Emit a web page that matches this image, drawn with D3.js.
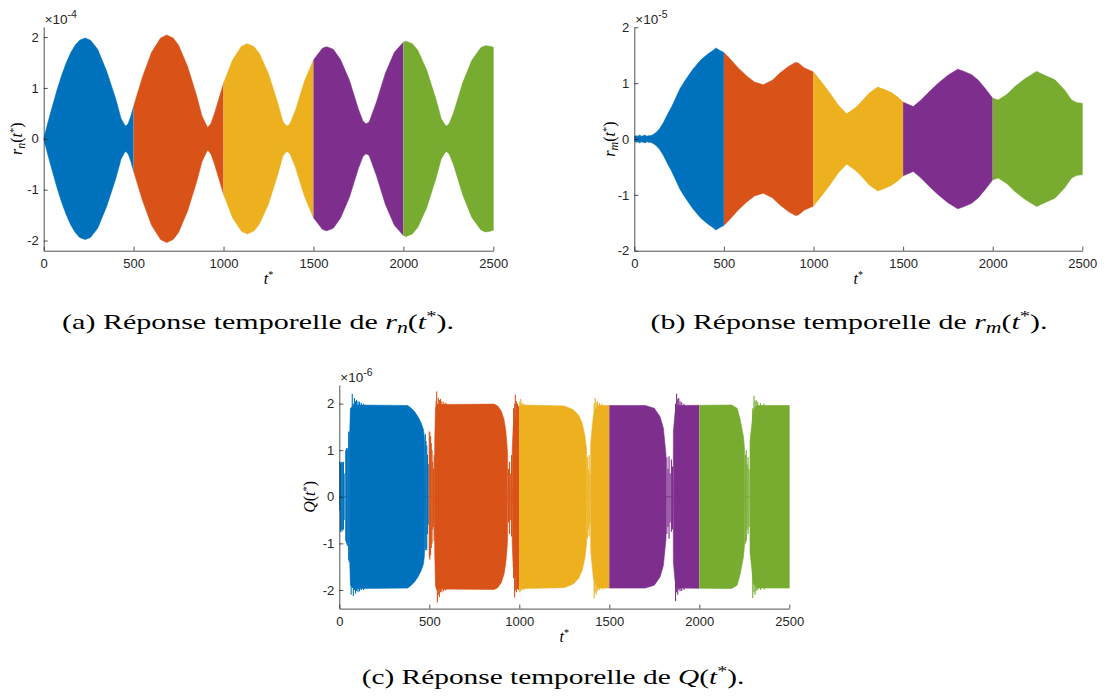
<!DOCTYPE html>
<html><head><meta charset="utf-8">
<script src="https://cdn.jsdelivr.net/npm/d3@7"></script>
<style>
body{margin:0;background:#fff;}
svg{display:block;}
.axis text{font-family:"Liberation Sans",Arial,Helvetica,sans-serif;font-size:13px;fill:#262626;}
.axis path,.axis line{stroke:#262626;stroke-width:0.8;}
.serif{font-family:"Liberation Serif","Times New Roman",serif;fill:#000;}
</style></head><body>
<svg id="chart" width="1105" height="696"></svg>
<script>
// ---------- shared ----------
const segmentEdges = [0, 500, 1000, 1500, 2000, 2500];
const segmentColors = ["#0072BD", "#D95319", "#EDB120", "#7E2F8E", "#77AC30"];
const xTicks = [0, 500, 1000, 1500, 2000, 2500];

// ---------- (a) r_n(t*) envelope, units of 1e-4 ----------
const rnTimes = [0,25,50,75,100,125,150,175,200,230,260,300,350,400,430,450,457,470,485,500,550,600,650,684,720,750,800,850,880,900,912,930,950,1000,1050,1100,1132,1170,1200,1250,1300,1330,1345,1356,1370,1400,1450,1500,1550,1573,1610,1650,1700,1750,1775,1790,1796,1810,1850,1900,1950,2000,2015,2050,2080,2130,2180,2210,2230,2240,2255,2280,2330,2380,2430,2455,2480,2500];
const rnUpper = [0,0.34,0.66,0.97,1.25,1.49,1.69,1.84,1.94,1.98,1.94,1.76,1.33,0.79,0.40,0.27,0.25,0.30,0.45,0.64,1.22,1.70,1.98,2.04,1.98,1.84,1.42,0.85,0.45,0.30,0.22,0.30,0.50,1.09,1.55,1.82,1.87,1.81,1.67,1.28,0.72,0.34,0.27,0.25,0.30,0.56,1.13,1.55,1.78,1.81,1.76,1.56,1.15,0.58,0.35,0.30,0.30,0.33,0.72,1.29,1.70,1.90,1.92,1.87,1.74,1.35,0.79,0.40,0.28,0.25,0.30,0.52,1.10,1.54,1.79,1.83,1.82,1.80];
const rnTicks = [-2, -1, 0, 1, 2];

// ---------- (b) r_m(t*) envelope, units of 1e-5 ----------
const rmTimes = [0,10,20,30,40,50,60,70,80,90,100,120,140,162,185,209,232,255,278,301,325,348,372,395,418,441,455,480,500,530,580,627,670,720,770,813,860,900,915,950,1000,1050,1092,1140,1185,1230,1260,1310,1358,1400,1436,1470,1500,1557,1600,1650,1696,1750,1805,1840,1883,1920,1957,2000,2031,2080,2124,2180,2245,2290,2347,2400,2440,2470,2500];
const rmUpper = [0.04,0.06,0.05,0.07,0.05,0.06,0.07,0.05,0.06,0.06,0.07,0.11,0.18,0.29,0.44,0.58,0.74,0.90,1.02,1.13,1.24,1.33,1.42,1.48,1.54,1.59,1.63,1.58,1.55,1.45,1.27,1.13,1.02,0.97,1.05,1.18,1.30,1.37,1.36,1.27,1.20,1.00,0.82,0.60,0.45,0.55,0.64,0.82,0.93,0.88,0.83,0.75,0.66,0.58,0.70,0.86,1.00,1.14,1.25,1.21,1.15,1.05,0.91,0.73,0.70,0.80,0.94,1.08,1.21,1.14,1.06,0.88,0.70,0.65,0.64];
const rmTicks = [-2, -1, 0, 1, 2];

// ---------- (c) Q(t*) saturated block envelope, units of 1e-6 ----------
const qTimes = [0,57,58,62,75,100,380,400,420,440,455,467,472,475,476,529,530,535,550,860,880,900,915,925,932,935,936,960,961,966,975,985,995,1000,1010,1250,1300,1330,1350,1365,1374,1375,1396,1397,1405,1411,1420,1440,1700,1750,1782,1800,1810,1815,1816,1855,1856,1865,1880,2180,2210,2226,2245,2252,2253,2281,2282,2290,2300,2320,2500];
const qUpper = [0,0,1.40,1.90,1.95,1.97,1.96,1.90,1.82,1.70,1.58,1.45,1.30,1.05,0,0,1.20,1.92,1.98,1.99,1.95,1.84,1.66,1.42,1.10,0.90,0,0,1.05,1.50,1.62,1.75,1.85,1.90,1.97,1.95,1.87,1.75,1.57,1.30,1.00,0,0,1.15,1.50,1.72,1.86,1.96,1.96,1.90,1.72,1.48,1.10,0.90,0,0,1.40,1.80,1.96,1.97,1.90,1.68,1.30,1.00,0,0,1.20,1.50,1.85,1.96,1.96];
// individual oscillation strokes (transients, overshoots, gaps)
const qSpikeT  = [3,7,11,15,19,23,27,36,40,44,48,52,55,66,72,78,84,90,96,104,112,122,135,478,482,486,490,494,500,503,507,511,515,519,523,527,538,541,545,550,556,562,570,580,592,940,946,952,957,968,974,978,984,990,996,1003,1008,1015,1025,1378,1383,1388,1392,1416,1421,1427,1434,1445,1458,1820,1826,1832,1838,1845,1851,1868,1874,1880,1886,1893,1902,1915,2256,2261,2266,2271,2276,2297,2304,2310,2316,2325,2340,2360];
const qSpikeHi = [0.75,0.72,0.75,0.72,0.74,0.75,0.50,1.00,1.04,1.05,1.00,1.40,1.38,1.90,2.21,2.00,2.12,2.05,2.08,2.05,2.04,2.02,2.00,1.35,1.20,1.10,0.90,0.70,1.40,1.38,1.30,1.15,1.00,0.75,0.60,0.90,2.05,2.26,2.00,2.12,2.08,2.10,2.05,2.03,2.02,0.60,0.75,0.50,0.90,1.90,2.00,2.19,2.05,2.00,1.95,2.05,2.10,2.02,2.00,0.85,0.60,0.90,0.50,2.00,2.12,2.03,2.05,2.02,2.00,0.85,0.60,0.87,0.50,0.80,0.65,2.00,2.21,2.10,2.12,2.05,2.03,2.00,0.90,1.00,0.70,0.85,0.60,1.90,2.17,2.05,2.08,2.04,2.01,2.00];
const qSpikeLo = [-0.30,-0.75,-0.70,-0.75,-0.72,-0.70,-0.50,-0.95,-1.00,-1.05,-1.05,-1.35,-1.40,-2.10,-1.95,-2.13,-2.00,-2.08,-2.02,-2.05,-2.03,-2.00,-2.00,-1.15,-1.10,-1.15,-0.80,-0.60,-1.30,-1.35,-1.25,-1.10,-1.00,-0.70,-0.65,-0.95,-1.95,-2.00,-2.27,-2.10,-2.15,-2.05,-2.05,-2.03,-2.01,-0.55,-0.80,-0.50,-0.85,-1.75,-2.16,-2.00,-2.05,-1.98,-2.00,-2.05,-2.02,-2.00,-2.00,-0.90,-0.70,-0.85,-0.60,-2.18,-2.05,-2.10,-2.02,-2.00,-1.99,-0.80,-0.65,-0.90,-0.55,-0.75,-0.70,-2.24,-2.05,-2.10,-2.00,-2.03,-2.02,-2.00,-1.00,-0.95,-0.70,-0.80,-0.65,-2.17,-2.05,-2.10,-2.02,-2.00,-2.00,-1.99];
const qTicks = [-2, -1, 0, 1, 2];

// ---------- drawing ----------
const svg = d3.select("#chart");
const defs = svg.append("defs");

function segIndex(t){
  for (let i = 0; i < segmentEdges.length - 1; i++) if (t < segmentEdges[i+1]) return i;
  return segmentEdges.length - 2;
}

function drawPanel(cfg){
  const x = d3.scaleLinear().domain([0, 2500]).range([cfg.left, cfg.right]);
  const y = d3.scaleLinear().domain(cfg.yDomain).range([cfg.bottom, cfg.top]);
  const g = svg.append("g");
  const rows = cfg.times.map((t, i) => ({t, u: cfg.upper[i]}));
  const area = d3.area().x(d => x(d.t)).y0(d => y(-d.u)).y1(d => y(d.u));
  segmentColors.forEach((c, i) => {
    const id = cfg.id + "clip" + i;
    const s = segmentEdges[i], e = segmentEdges[i+1];
    defs.append("clipPath").attr("id", id).append("rect")
      .attr("x", x(s)).attr("width", x(e) - x(s) + (i === segmentColors.length - 1 ? 1 : 0))
      .attr("y", cfg.top - 30).attr("height", cfg.bottom - cfg.top + 60);
    g.append("path").datum(rows).attr("d", area)
      .attr("fill", c).attr("stroke", c).attr("stroke-width", 0.6)
      .attr("clip-path", `url(#${id})`);
  });
  if (cfg.spikeT){
    g.selectAll("line.spike").data(cfg.spikeT.map((t, i) => ({t, hi: cfg.spikeHi[i], lo: cfg.spikeLo[i]})))
      .enter().append("line").attr("class", "spike")
      .attr("x1", d => x(d.t)).attr("x2", d => x(d.t))
      .attr("y1", d => y(d.hi)).attr("y2", d => y(d.lo))
      .attr("stroke", d => segmentColors[segIndex(d.t)]).attr("stroke-width", 1.1);
  }
  // axes
  svg.append("g").attr("class", "axis").attr("transform", `translate(0,${cfg.bottom})`)
    .call(d3.axisBottom(x).tickValues(xTicks).tickFormat(d3.format("d")).tickSizeInner(-4).tickSizeOuter(0).tickPadding(8));
  const ya = svg.append("g").attr("class", "axis").attr("transform", `translate(${cfg.left},0)`)
    .call(d3.axisLeft(y).tickValues(cfg.yTicks).tickFormat(d3.format("d")).tickSizeInner(-4).tickSizeOuter(0).tickPadding(5));
  ya.selectAll(".tick text").text(d => d < 0 ? "-" + Math.abs(d) : d);
  // exponent
  const ex = svg.append("text").attr("x", cfg.left + 1).attr("y", cfg.top - 3)
    .attr("font-family", "Liberation Sans, Arial, sans-serif").attr("font-size", 13.5).attr("fill", "#262626");
  ex.append("tspan").text("×10");
  ex.append("tspan").attr("font-size", 10.5).attr("dy", -6).text(cfg.exponent);
  // x label t*
  const xl = svg.append("text").attr("class", "serif").attr("x", (cfg.left + cfg.right) / 2)
    .attr("y", cfg.bottom + 33).attr("text-anchor", "middle").attr("font-size", 16);
  xl.append("tspan").attr("font-style", "italic").text("t");
  xl.append("tspan").attr("font-size", 10).attr("dy", -6).text("*");
  // y label
  const yl = svg.append("text").attr("class", "serif").attr("text-anchor", "middle")
    .attr("font-size", 16)
    .attr("transform", `translate(${cfg.left - cfg.ylabOffset},${y(0)}) rotate(-90)`);
  cfg.ylabel(yl);
}

function rLabel(sub){
  return function(t){
    t.append("tspan").attr("font-style", "italic").text("r");
    t.append("tspan").attr("font-style", "italic").attr("font-size", 12).attr("dy", 3).text(sub);
    t.append("tspan").attr("dy", -3).text("(");
    t.append("tspan").attr("font-style", "italic").text("t");
    t.append("tspan").attr("font-size", 10.5).attr("dy", -5).text("*");
    t.append("tspan").attr("dy", 5).text(")");
  };
}

drawPanel({id: "a", left: 43.7, right: 493.3, top: 26.9, bottom: 250.7, yDomain: [-2.2, 2.2],
  yTicks: rnTicks, times: rnTimes, upper: rnUpper, exponent: "-4", ylabOffset: 22, ylabel: rLabel("n")});
drawPanel({id: "b", left: 634.3, right: 1082.3, top: 27.3, bottom: 250.7, yDomain: [-2, 2],
  yTicks: rmTicks, times: rmTimes, upper: rmUpper, exponent: "-5", ylabOffset: 19, ylabel: rLabel("m")});
drawPanel({id: "c", left: 339.3, right: 789.3, top: 385, bottom: 608.6, yDomain: [-2.4, 2.4],
  yTicks: qTicks, times: qTimes, upper: qUpper, spikeT: qSpikeT, spikeHi: qSpikeHi, spikeLo: qSpikeLo,
  exponent: "-6", ylabOffset: 24,
  ylabel: t => {
    t.append("tspan").attr("font-style", "italic").text("Q");
    t.append("tspan").text("(");
    t.append("tspan").attr("font-style", "italic").text("t");
    t.append("tspan").attr("font-size", 10.5).attr("dy", -5).text("*");
    t.append("tspan").attr("dy", 5).text(")");
  }});

// captions (Computer-Modern-like width: stretch Times horizontally to the measured width)
function caption(cx, by, letter, mathFn, target){
  const g = svg.append("g");
  const t = g.append("text").attr("class", "serif").attr("x", 0).attr("y", 0)
    .attr("text-anchor", "middle").attr("font-size", 22).attr("fill", "#111");
  t.append("tspan").text(`(${letter}) Réponse temporelle de `);
  mathFn(t);
  t.append("tspan").text(".");
  const w = t.node().getComputedTextLength();
  g.attr("transform", `translate(${cx},${by}) scale(${(target / w).toFixed(4)},1)`);
}
function capR(sub){
  return t => {
    t.append("tspan").attr("font-style", "italic").text("r");
    t.append("tspan").attr("font-style", "italic").attr("font-size", 16).attr("dy", 4).text(sub);
    t.append("tspan").attr("dy", -4).text("(");
    t.append("tspan").attr("font-style", "italic").text("t");
    t.append("tspan").attr("font-size", 15).attr("dy", -8).text("*");
    t.append("tspan").attr("dy", 8).text(")");
  };
}
caption(258, 329, "a", capR("n"), 392);
caption(849, 329, "b", capR("m"), 397);
caption(553, 684, "c", t => {
  t.append("tspan").attr("font-style", "italic").text("Q");
  t.append("tspan").text("(");
  t.append("tspan").attr("font-style", "italic").text("t");
  t.append("tspan").attr("font-size", 15).attr("dy", -8).text("*");
  t.append("tspan").attr("dy", 8).text(")");
}, 383);
</script>
</body></html>
